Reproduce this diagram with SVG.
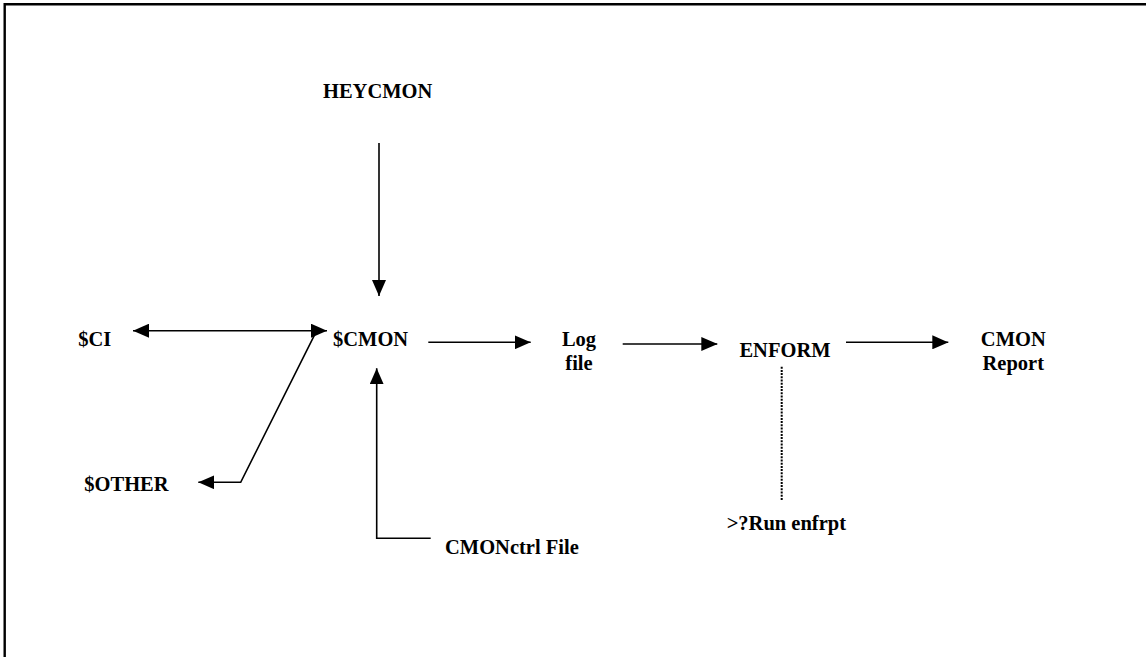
<svg xmlns="http://www.w3.org/2000/svg" width="1146" height="657" viewBox="0 0 1146 657">
  <style>
    text { font-family: "Liberation Serif", "Times New Roman", serif; font-weight: bold; font-size: 20.5px; fill: #000; }
    .mid { text-anchor: middle; }
    .ln { stroke: #000; stroke-width: 1.6; fill: none; }
    .dot { stroke: #000; stroke-width: 2; stroke-dasharray: 2 1.2; fill: none; }
    .frame { stroke: #000; stroke-width: 2.4; fill: none; }
  </style>
  <defs>
    <marker id="head" viewBox="0 0 16 14" refX="16" refY="7" markerWidth="16" markerHeight="14" markerUnits="userSpaceOnUse" orient="auto-start-reverse">
      <path d="M0,0 L16,7 L0,14 Z" fill="#000"/>
    </marker>
  </defs>

  <rect width="1146" height="657" fill="#fff"/>
  <!-- page frame: top and left rules -->
  <path class="frame" d="M4.7,700 L4.7,4.2 L1160,4.2"/>

  <g id="connectors">
    <!-- HEYCMON to $CMON -->
    <line class="ln" x1="379" y1="143" x2="379" y2="296" marker-end="url(#head)"/>
    <!-- $CI <-> $CMON -->
    <line class="ln" x1="133" y1="330.7" x2="327" y2="330.7" marker-start="url(#head)" marker-end="url(#head)"/>
    <!-- $CMON to $OTHER -->
    <polyline class="ln" points="316.7,330.7 240.7,482.3 198.3,482.3" marker-end="url(#head)"/>
    <!-- CMONctrl File to $CMON -->
    <polyline class="ln" points="430.7,538.3 376.7,538.3 376.7,368.3" marker-end="url(#head)"/>
    <!-- $CMON to Log file -->
    <line class="ln" x1="428.3" y1="342.3" x2="530.7" y2="342.3" marker-end="url(#head)"/>
    <!-- Log file to ENFORM -->
    <line class="ln" x1="622.7" y1="344" x2="717.3" y2="344" marker-end="url(#head)"/>
    <!-- ENFORM to CMON Report -->
    <line class="ln" x1="846" y1="342.3" x2="948.3" y2="342.3" marker-end="url(#head)"/>
    <!-- ENFORM to run command -->
    <line class="dot" x1="781.7" y1="366.7" x2="781.7" y2="500"/>
  </g>

  <g id="heycmon"><text x="323" y="98">HEYCMON</text></g>
  <g id="cmon"><text x="333" y="345.7">$CMON</text></g>
  <g id="ci"><text x="78.3" y="345.7">$CI</text></g>
  <g id="other"><text x="84.3" y="490.7">$OTHER</text></g>
  <g id="logfile">
    <text class="mid" x="579" y="346">Log</text>
    <text class="mid" x="579" y="370">file</text>
  </g>
  <g id="enform"><text class="mid" x="785" y="356.7">ENFORM</text></g>
  <g id="cmonreport">
    <text class="mid" x="1013.3" y="345.7">CMON</text>
    <text class="mid" x="1013.3" y="370">Report</text>
  </g>
  <g id="cmonctrl"><text x="445" y="554">CMONctrl File</text></g>
  <g id="runenfrpt"><text x="726.7" y="530">&gt;?Run enfrpt</text></g>
</svg>
